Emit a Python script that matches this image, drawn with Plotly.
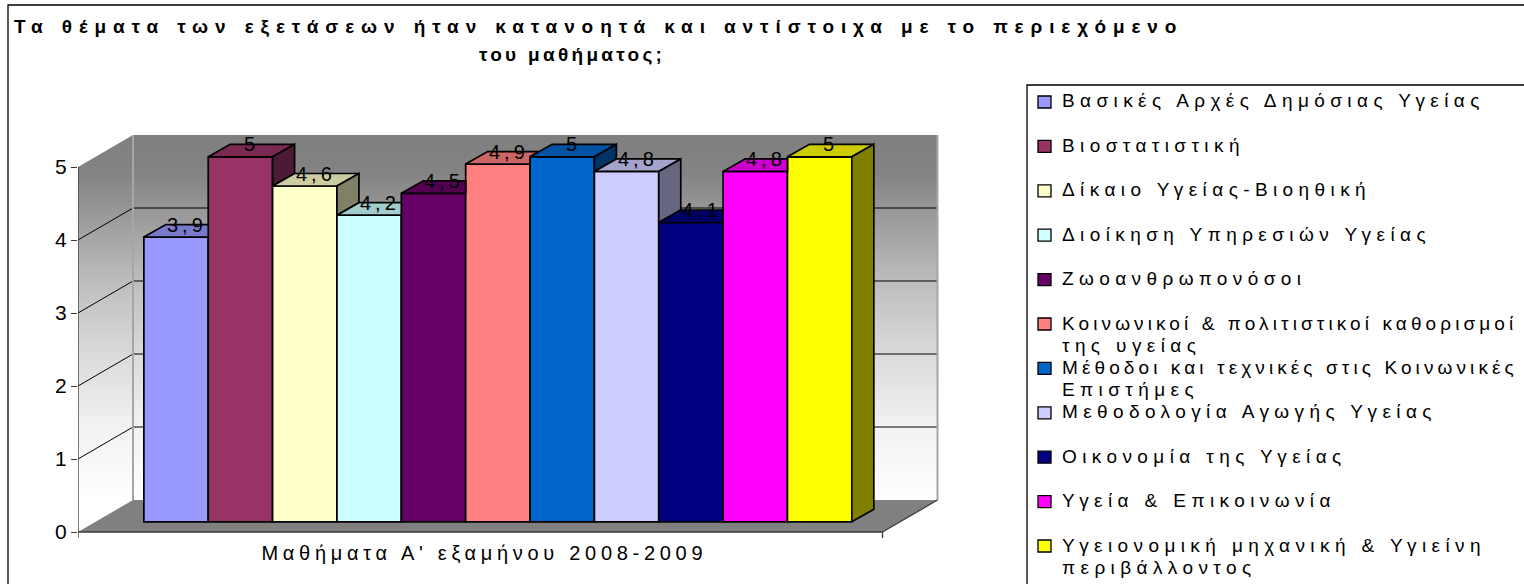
import json
import plotly.graph_objects as go

# ---------------- data ----------------
courses = [
    "Βασικές Αρχές Δημόσιας Υγείας",
    "Βιοστατιστική",
    "Δίκαιο Υγείας-Βιοηθική",
    "Διοίκηση Υπηρεσιών Υγείας",
    "Ζωοανθρωπονόσοι",
    "Κοινωνικοί & πολιτιστικοί καθορισμοί της υγείας",
    "Μέθοδοι και τεχνικές στις Κοινωνικές Επιστήμες",
    "Μεθοδολογία Αγωγής Υγείας",
    "Οικονομία της Υγείας",
    "Υγεία & Επικοινωνία",
    "Υγειονομική μηχανική & Υγιείνη περιβάλλοντος",
]
legend_labels = [
    "Βασικές Αρχές Δημόσιας Υγείας",
    "Βιοστατιστική",
    "Δίκαιο Υγείας-Βιοηθική",
    "Διοίκηση Υπηρεσιών Υγείας",
    "Ζωοανθρωπονόσοι",
    "Κοινωνικοί & πολιτιστικοί καθορισμοί<br>της υγείας",
    "Μέθοδοι και τεχνικές στις Κοινωνικές<br>Επιστήμες",
    "Μεθοδολογία Αγωγής Υγείας",
    "Οικονομία της Υγείας",
    "Υγεία & Επικοινωνία",
    "Υγειονομική μηχανική & Υγιείνη<br>περιβάλλοντος",
]
scores = [3.9, 5, 4.6, 4.2, 4.5, 4.9, 5, 4.8, 4.1, 4.8, 5]
bar_colors = ["#9999FF", "#993366", "#FFFFCC", "#CCFFFF", "#660066", "#FF8080",
              "#0066CC", "#CCCCFF", "#000080", "#FF00FF", "#FFFF00"]
score_ticks = [0, 1, 2, 3, 4, 5]

title_lines = ["Τα θέματα των εξετάσεων ήταν κατανοητά και αντίστοιχα με το περιεχόμενο",
               "του μαθήματος;"]
category_title = "Μαθήματα Α' εξαμήνου 2008-2009"

# ---------------- canvas & oblique projection (pixels) ----------------
W, H = 1524, 584
PX_CAT = 64.36            # pixels per category slot
PX_VAL = 73.0             # pixels per score point
FRONT_LEFT_PX = 78        # front-left corner of the floor
FRONT_BASE_PX = 532       # front edge of the floor (score 0)
PAD = 0.75                # floor margin beyond first / last bar (slots)
BAR_SHIFT_PX = (17.6, 10.2)   # bar row set back from the front edge
DEPTH_PX = (55.0, 32.0)       # full floor depth
BAR_DEPTH_PX = (22.0, 12.5)   # depth of a single bar
PLOT_L, PLOT_R, PLOT_T, PLOT_B = 78, 1012, 100, 548

FONT = "Liberation Sans"
TOP_SHADE, SIDE_SHADE = 0.8, 0.5


def u_front(px):
    return -0.5 - PAD + (px - FRONT_LEFT_PX) / PX_CAT


def v_front(py):
    return (FRONT_BASE_PX - py) / PX_VAL


def u_bar(px):
    return u_front(px - BAR_SHIFT_PX[0])


def v_bar(py):
    return v_front(py + BAR_SHIFT_PX[1])


def xp(px):
    return px / W


def yp(py):
    return 1 - py / H


def shade(hex_color, f):
    h = hex_color.lstrip("#")
    r, g, b = (int(h[i:i + 2], 16) for i in (0, 2, 4))
    return "#%02x%02x%02x" % (round(r * f), round(g * f), round(b * f))


n = len(courses)
dx, dy = DEPTH_PX[0] / PX_CAT, DEPTH_PX[1] / PX_VAL
bx, by = BAR_DEPTH_PX[0] / PX_CAT, BAR_DEPTH_PX[1] / PX_VAL
uL, uR = -0.5 - PAD, n - 0.5 + PAD
vmax = max(score_ticks)

fig = go.Figure()

# ---------------- walls and floor (front subplot) ----------------
wall_scale = [[0.0, "#ffffff"], [0.2, "#f2f2f2"], [0.4, "#dadada"], [0.6, "#bdbdbd"],
              [0.8, "#969696"], [0.9, "#838383"], [1.0, "#7f7f7f"]]
grad = dict(type="vertical", colorscale=wall_scale, start=dy, stop=vmax + dy)

fig.add_trace(go.Scatter(  # side wall
    x=[uL, uL + dx, uL + dx, uL, uL], y=[0, dy, vmax + dy, vmax, 0],
    fill="toself", mode="none", fillgradient=grad, hoverinfo="skip", showlegend=False))
fig.add_trace(go.Scatter(  # back wall
    x=[uL + dx, uR + dx, uR + dx, uL + dx, uL + dx], y=[dy, dy, vmax + dy, vmax + dy, dy],
    fill="toself", mode="none", fillgradient=grad, hoverinfo="skip", showlegend=False))
fig.add_trace(go.Scatter(  # floor
    x=[uL, uR, uR + dx, uL + dx, uL], y=[0, 0, dy, dy, 0],
    fill="toself", mode="none", fillcolor="#808080", hoverinfo="skip", showlegend=False))

# gridlines: across the back wall and slanted along the side wall
gx, gy = [], []
for t in score_ticks[1:-1]:
    gx += [uL, uL + dx, uR + dx, None]
    gy += [t, t + dy, t + dy, None]
fig.add_trace(go.Scatter(x=gx, y=gy, mode="lines", line=dict(color="#000000", width=1),
                         hoverinfo="skip", showlegend=False))

# wall corner edges
fig.add_trace(go.Scatter(
    x=[uL + dx, uL + dx, None, uR + dx, uR + dx], y=[dy, vmax + dy, None, dy, vmax + dy],
    mode="lines", line=dict(color="#a6a6a6", width=2), hoverinfo="skip", showlegend=False))

# floor right edge, value axis line, category axis line and its end ticks
tick_v = 6 / PX_VAL
fig.add_trace(go.Scatter(
    x=[uR, uR + dx, None, uL, uL, None, uL, uR, None, uL, uL, None, uR, uR],
    y=[0, dy, None, 0, vmax, None, 0, 0, None, 0, -tick_v, None, 0, -tick_v],
    mode="lines", line=dict(color="#3a3a3a", width=1.3), hoverinfo="skip", showlegend=False))

# ---------------- bars (bar-row subplot) ----------------
for i, (name, val, col) in enumerate(zip(courses, scores, bar_colors)):
    fig.add_trace(go.Bar(
        x=[i], y=[val], width=[1], name=name, xaxis="x2", yaxis="y2",
        marker=dict(color=col, line=dict(color="#000000", width=1.7)),
        showlegend=False, hovertemplate="%{y}<extra>" + name + "</extra>"))

for i, (val, col) in enumerate(zip(scores, bar_colors)):
    L, R = i - 0.5, i + 0.5
    nxt = scores[i + 1] if i + 1 < n else None

    # top face, trimmed where the next (taller) bar hides it
    if nxt is None or nxt <= val:
        tx = [L, R, R + bx, L + bx, L]
        ty = [val, val, val + by, val + by, val]
    elif nxt >= val + by:
        tx = [L, R, R, L + bx, L]
        ty = [val, val, val + by, val + by, val]
    else:
        tx = [L, R, R, R + (val + by - nxt) / by * bx, L + bx, L]
        ty = [val, val, nxt, val + by, val + by, val]
    fig.add_trace(go.Scatter(
        x=tx, y=ty, xaxis="x2", yaxis="y2", fill="toself", mode="lines",
        fillcolor=shade(col, TOP_SHADE), line=dict(color="#000000", width=1.7),
        hoverinfo="skip", showlegend=False))

    # right side face, only the part rising above the next bar
    if nxt is None:
        low = 0
    elif nxt < val:
        low = nxt
    else:
        low = None
    if low is not None:
        fig.add_trace(go.Scatter(
            x=[R, R, R + bx, R + bx, R], y=[low, val, val + by, low + by, low],
            xaxis="x2", yaxis="y2", fill="toself", mode="lines",
            fillcolor=shade(col, SIDE_SHADE), line=dict(color="#000000", width=1.7),
            hoverinfo="skip", showlegend=False))

# ---------------- annotations ----------------
annotations, spacing = [], []


def add_note(spc, **kw):
    annotations.append(kw)
    spacing.append(spc)


# value labels on top of each bar
for i, val in enumerate(scores):
    add_note(4.0, x=i + bx / 2, y=val + by, xref="x2", yref="y2",
             text=f"{val:g}".replace(".", ","), showarrow=False,
             xanchor="center", yanchor="middle", font=dict(family=FONT, size=20, color="#000000"))

# chart title
add_note(6.9, x=xp(12), y=yp(27), xref="paper", yref="paper", text="<b>" + title_lines[0] + "</b>",
         showarrow=False, xanchor="left", yanchor="middle", align="left",
         font=dict(family=FONT, size=19, color="#000000"))
add_note(3.3, x=xp(572), y=yp(55), xref="paper", yref="paper", text="<b>" + title_lines[1] + "</b>",
         showarrow=False, xanchor="center", yanchor="middle",
         font=dict(family=FONT, size=19, color="#000000"))

# category axis title
add_note(4.7, x=xp(484), y=yp(553), xref="paper", yref="paper", text=category_title,
         showarrow=False, xanchor="center", yanchor="middle",
         font=dict(family=FONT, size=20, color="#000000"))

# legend entries (wrapped names continue on a tight second line)
LEG_Y0, LEG_STEP, LEG_LINE = 101, 44.4, 22
shapes = []
for k, (lab, col) in enumerate(zip(legend_labels, bar_colors)):
    cy = LEG_Y0 + k * LEG_STEP
    shapes.append(dict(type="rect", xref="paper", yref="paper",
                       x0=xp(1038), x1=xp(1051), y0=yp(cy + 7), y1=yp(cy - 5),
                       fillcolor=col, line=dict(color="#000000", width=1.3)))
    for j, line in enumerate(lab.split("<br>")):
        spc = 4.1 if len(line) > 32 else 5.4
        add_note(spc, x=xp(1061), y=yp(cy + j * LEG_LINE), xref="paper", yref="paper",
                 text=line, showarrow=False, xanchor="left", yanchor="middle", align="left",
                 borderpad=0, font=dict(family=FONT, size=19, color="#000000"))

# legend frame and chart frame
shapes.append(dict(type="rect", xref="paper", yref="paper", x0=xp(1027), x1=1.05,
                   y0=-0.05, y1=yp(85), line=dict(color="#000000", width=1.3)))
shapes.append(dict(type="rect", xref="paper", yref="paper", x0=xp(8), x1=1.05,
                   y0=-0.05, y1=yp(5), line=dict(color="#000000", width=1.3)))

dom_x = [xp(PLOT_L), xp(PLOT_R)]
dom_y = [yp(PLOT_B), yp(PLOT_T)]
fig.update_layout(
    width=W, height=H, margin=dict(l=0, r=0, t=0, b=0),
    paper_bgcolor="#ffffff", plot_bgcolor="rgba(0,0,0,0)",
    barmode="overlay", showlegend=False,
    font=dict(family=FONT, color="#000000"),
    annotations=annotations, shapes=shapes,
    xaxis=dict(domain=dom_x, range=[u_front(PLOT_L), u_front(PLOT_R)], visible=False),
    yaxis=dict(domain=dom_y, range=[v_front(PLOT_B), v_front(PLOT_T)], anchor="x",
               tickmode="array", tickvals=score_ticks, ticktext=[str(t) for t in score_ticks],
               ticks="outside", ticklen=6, tickwidth=1.3, tickcolor="#3a3a3a",
               showgrid=False, zeroline=False, showline=False,
               tickfont=dict(family=FONT, size=21, color="#000000")),
    xaxis2=dict(domain=dom_x, range=[u_bar(PLOT_L), u_bar(PLOT_R)], visible=False, anchor="y2"),
    yaxis2=dict(domain=dom_y, range=[v_bar(PLOT_B), v_bar(PLOT_T)], visible=False, anchor="x2"),
)

# widen glyph tracking of the annotation texts
post_js = """
var gd = document.getElementById('{plot_id}');
var ls = %s;
gd.querySelectorAll('g.annotation').forEach(function (g) {
  var i = +g.getAttribute('data-index');
  var t = g.querySelector('text.annotation-text');
  if (t && ls[i]) { t.style.letterSpacing = ls[i] + 'px'; }
});
""" % json.dumps(spacing)

fig.write_html("out.html", post_script=post_js)
